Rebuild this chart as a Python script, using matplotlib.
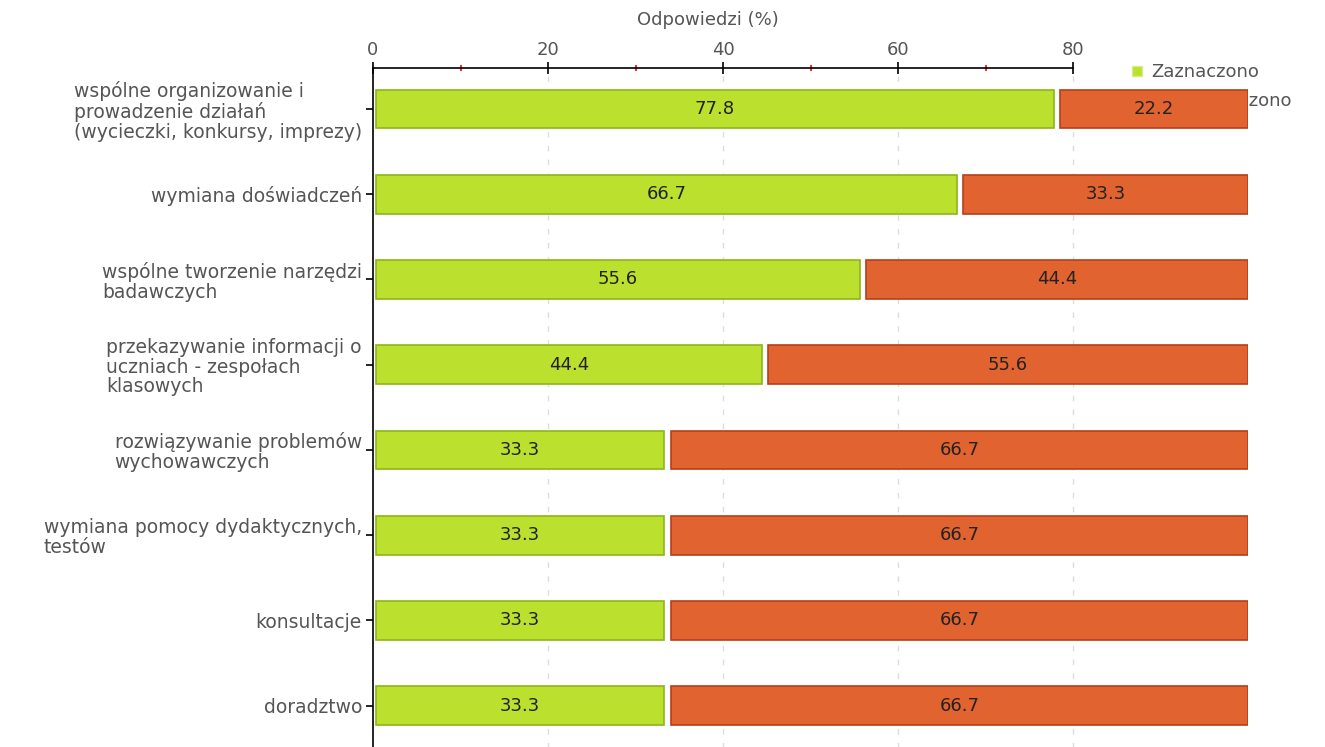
import matplotlib
matplotlib.use("Agg")
import matplotlib.pyplot as plt
from matplotlib.lines import Line2D

categories = [
    "wspólne organizowanie i\nprowadzenie działań\n(wycieczki, konkursy, imprezy)",
    "wymiana doświadczeń",
    "wspólne tworzenie narzędzi\nbadawczych",
    "przekazywanie informacji o\nuczniach - zespołach\nklasowych",
    "rozwiązywanie problemów\nwychowawczych",
    "wymiana pomocy dydaktycznych,\ntestów",
    "konsultacje",
    "doradztwo",
]
zaznaczono = [77.8, 66.7, 55.6, 44.4, 33.3, 33.3, 33.3, 33.3]
nie_zaznaczono = [22.2, 33.3, 44.4, 55.6, 66.7, 66.7, 66.7, 66.7]
series_names = ["Zaznaczono", "Nie zaznaczono"]
xticks_major = [0, 20, 40, 60, 80]
xticks_minor = [10, 30, 50, 70]

GREEN, GREEN_E = "#bce02e", "#8db51a"
RED, RED_E = "#e06330", "#b5401a"
GREY = "#555555"
FS = 13
FSY = 13.5

plt.rcParams["font.family"] = ["DejaVu Sans"]

W, H = 1325, 747
fig = plt.figure(figsize=(W / 100, H / 100), dpi=100)
left_px, right_px, top_px, bottom_px = 373, 1248, 68, 750
ax = fig.add_axes([left_px / W, 1 - bottom_px / H, (right_px - left_px) / W, (bottom_px - top_px) / H])

n = len(categories)
y = list(range(n))
bh = 0.455
gap0 = 0.35
gap = 0.75

for i in range(n):
    g = zaznaczono[i]
    r = nie_zaznaczono[i]
    ax.barh(y[i], g - gap0, left=gap0, height=bh, color=GREEN, edgecolor=GREEN_E, linewidth=1.2, zorder=3)
    ax.barh(y[i], r - gap, left=g + gap, height=bh, color=RED, edgecolor=RED_E, linewidth=1.2, zorder=3)
    ax.text((gap0 + g) / 2, y[i], f"{g:.1f}", ha="center", va="center", fontsize=FS, color="#222222", zorder=4)
    ax.text((g + gap + g + r) / 2, y[i], f"{r:.1f}", ha="center", va="center", fontsize=FS, color="#222222", zorder=4)

ax.set_xlim(0, 100)
ax.set_ylim(n - 0.5 + 0.02, -0.5 + 0.02)

ax.xaxis.tick_top()
ax.set_xticks(xticks_major)
ax.set_xticks(xticks_minor, minor=True)
ax.tick_params(axis="x", which="major", direction="inout", length=9, width=1.2, color="black",
               labelsize=FS, labelcolor=GREY, pad=2)
ax.tick_params(axis="x", which="minor", direction="inout", length=5, width=1.2, color="red")
ax.set_yticks(y)
ax.set_yticklabels(categories, fontsize=FSY, color=GREY, linespacing=1.05)
for lbl in ax.get_yticklabels():
    lbl.set_multialignment("left")
ax.tick_params(axis="y", direction="out", length=5, width=1.2, color="black", pad=3)

for s in ["right", "bottom"]:
    ax.spines[s].set_visible(False)
ax.spines["top"].set_bounds(0, 80)
ax.spines["top"].set_linewidth(1.2)
ax.spines["left"].set_linewidth(1.2)

for xv in xticks_major[1:]:
    ax.axvline(xv, color="#dddddd", linewidth=1, linestyle=(0, (4, 6)), zorder=1)

fig.text(708 / W, 1 - 20 / H, "Odpowiedzi (%)", ha="center", va="center", fontsize=FS, color=GREY)

handles = [
    Line2D([], [], marker="s", linestyle="none", markersize=7, markerfacecolor=GREEN, markeredgecolor="#d6ee8a"),
    Line2D([], [], marker="s", linestyle="none", markersize=7, markerfacecolor=RED, markeredgecolor="#f0a080"),
]
leg = ax.legend(handles, series_names, loc="upper left", bbox_to_anchor=(1130 / W, 1 - 63 / H),
                bbox_transform=fig.transFigure, frameon=False, fontsize=FS, labelcolor=GREY,
                handlelength=0.8, handletextpad=0.35, labelspacing=0.6, borderpad=0, borderaxespad=0)
leg.set_zorder(2)

fig.savefig("out.png", dpi=100)
